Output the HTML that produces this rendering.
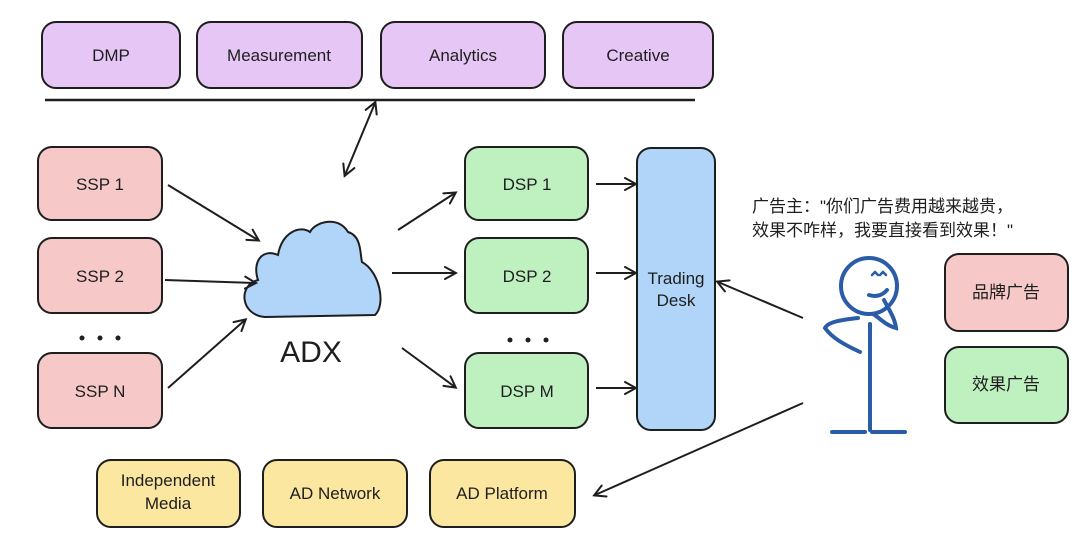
<!DOCTYPE html>
<html><head><meta charset="utf-8"><style>
html,body{margin:0;padding:0;background:#fff;}
svg{display:block;}
text{font-family:"Liberation Sans","Noto Sans CJK SC",sans-serif;fill:#1e1e1e;}
</style></head><body>
<svg width="1080" height="542" viewBox="0 0 1080 542" xmlns="http://www.w3.org/2000/svg">
<defs>
<marker id="ah" markerWidth="14" markerHeight="14" refX="11" refY="7" orient="auto" markerUnits="userSpaceOnUse">
<path d="M1,1 L12,7 L1,13" fill="none" stroke="#1e1e1e" stroke-width="2" stroke-linecap="round"/>
</marker>
<marker id="ahs" markerWidth="14" markerHeight="14" refX="3" refY="7" orient="auto" markerUnits="userSpaceOnUse">
<path d="M13,1 L2,7 L13,13" fill="none" stroke="#1e1e1e" stroke-width="2" stroke-linecap="round"/>
</marker>
</defs>
<g stroke="#1e1e1e" stroke-width="2">
<rect x="42" y="22" width="138" height="66" rx="14" fill="#e5c6f5"/>
<rect x="197" y="22" width="165" height="66" rx="14" fill="#e5c6f5"/>
<rect x="381" y="22" width="164" height="66" rx="14" fill="#e5c6f5"/>
<rect x="563" y="22" width="150" height="66" rx="14" fill="#e5c6f5"/>
<line x1="45" y1="100" x2="695" y2="100" stroke-width="2.5"/>
<rect x="38" y="147" width="124" height="73" rx="14" fill="#f6c8c8"/>
<rect x="38" y="238" width="124" height="75" rx="14" fill="#f6c8c8"/>
<rect x="38" y="353" width="124" height="75" rx="14" fill="#f6c8c8"/>
<rect x="465" y="147" width="123" height="73" rx="14" fill="#bff0c0"/>
<rect x="465" y="238" width="123" height="75" rx="14" fill="#bff0c0"/>
<rect x="465" y="353" width="123" height="75" rx="14" fill="#bff0c0"/>
<rect x="637" y="148" width="78" height="282" rx="14" fill="#b0d5f8"/>
<rect x="97" y="460" width="143" height="67" rx="14" fill="#fbe7a0"/>
<rect x="263" y="460" width="144" height="67" rx="14" fill="#fbe7a0"/>
<rect x="430" y="460" width="145" height="67" rx="14" fill="#fbe7a0"/>
<rect x="945" y="254" width="123" height="77" rx="14" fill="#f6c8c8"/>
<rect x="945" y="347" width="123" height="76" rx="14" fill="#bff0c0"/>
<path d="M265,317 C240,315 238,285 258,280 C252,262 262,248 278,255 C282,232 300,225 310,232 C315,222 338,215 348,232 C362,236 360,255 362,262 C380,272 386,305 375,315 Z" fill="#b0d5f8"/>
</g>
<g stroke="#1e1e1e" stroke-width="2" fill="none">
<line x1="345" y1="175" x2="375" y2="103" marker-start="url(#ahs)" marker-end="url(#ah)"/>
<line x1="168" y1="185" x2="258" y2="240" marker-end="url(#ah)"/>
<line x1="165" y1="280" x2="255" y2="283" marker-end="url(#ah)"/>
<line x1="168" y1="388" x2="245" y2="320" marker-end="url(#ah)"/>
<line x1="398" y1="230" x2="455" y2="193" marker-end="url(#ah)"/>
<line x1="392" y1="273" x2="455" y2="273" marker-end="url(#ah)"/>
<line x1="402" y1="348" x2="455" y2="387" marker-end="url(#ah)"/>
<line x1="596" y1="184" x2="635" y2="184" marker-end="url(#ah)"/>
<line x1="596" y1="273" x2="635" y2="273" marker-end="url(#ah)"/>
<line x1="596" y1="388" x2="635" y2="388" marker-end="url(#ah)"/>
<line x1="803" y1="318" x2="718" y2="282" marker-end="url(#ah)"/>
<line x1="803" y1="403" x2="595" y2="495" marker-end="url(#ah)"/>
</g>
<g fill="#1e1e1e">
<circle cx="82" cy="338" r="2.5"/><circle cx="100" cy="338" r="2.5"/><circle cx="118" cy="338" r="2.5"/>
<circle cx="510" cy="340" r="2.5"/><circle cx="528" cy="340" r="2.5"/><circle cx="546" cy="340" r="2.5"/>
</g>
<g stroke="#2a5ca8" stroke-width="4" fill="none" stroke-linecap="round">
<circle cx="869" cy="286" r="28"/>
<path d="M870,324 L870,430"/>
<path d="M858,318 C840,320 828,322 825,328 C832,338 845,345 860,352"/>
<path d="M873,314 C880,318 885,325 896,328 C895,318 888,308 884,300"/>
<path d="M869,295 C875,297 882,296 887,290"/>
<path d="M872,275 l3,-3 l3,3 M880,275 l3,-3 l3,3" stroke-width="2.5"/>
<path d="M832,432 L865,432 M872,432 L905,432"/>
</g>
<g font-size="17" text-anchor="middle">
<text x="111" y="61">DMP</text>
<text x="279" y="61">Measurement</text>
<text x="463" y="61">Analytics</text>
<text x="638" y="61">Creative</text>
<text x="100" y="190">SSP 1</text>
<text x="100" y="282">SSP 2</text>
<text x="100" y="397">SSP N</text>
<text x="527" y="190">DSP 1</text>
<text x="527" y="282">DSP 2</text>
<text x="527" y="397">DSP M</text>
<text x="676" y="284">Trading</text>
<text x="676" y="306">Desk</text>
<text x="168" y="486">Independent</text>
<text x="168" y="509">Media</text>
<text x="335" y="499">AD Network</text>
<text x="502" y="499">AD Platform</text>
<text x="1006" y="298">品牌广告</text>
<text x="1006" y="390">效果广告</text>
<text x="311" y="362" font-size="30">ADX</text>
</g>
<g font-size="17">
<text x="752" y="212">广告主："你们广告费用越来越贵，</text>
<text x="752" y="236">效果不咋样，我要直接看到效果！"</text>
</g>
</svg>
</body></html>
